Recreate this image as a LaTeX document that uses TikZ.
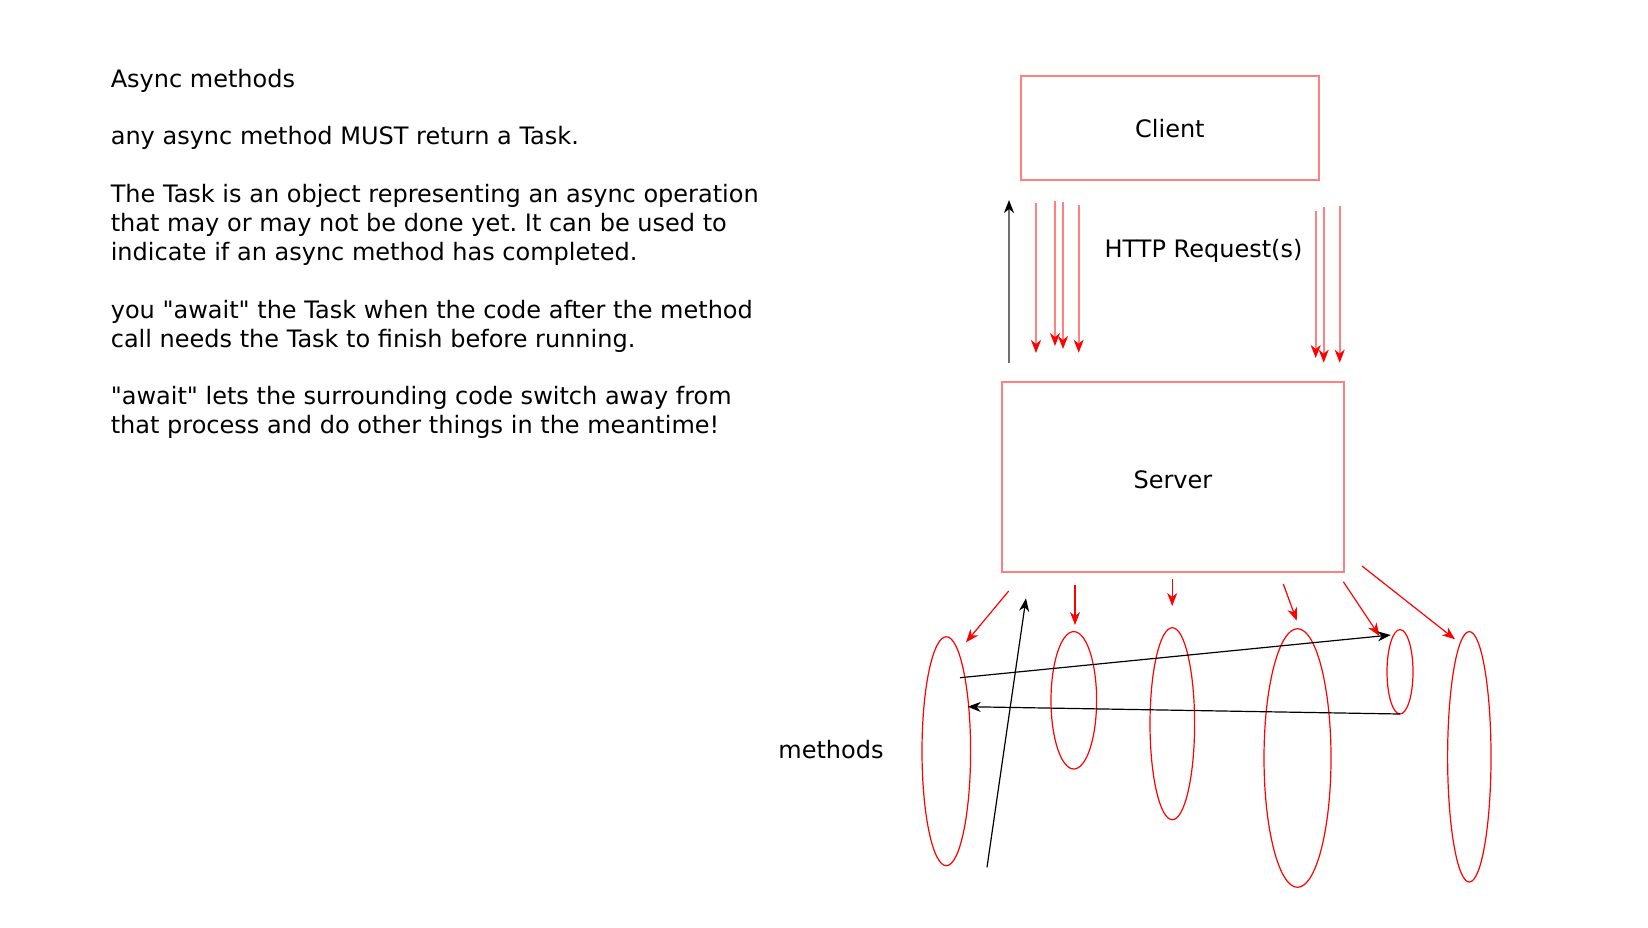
\documentclass[tikz,border=0pt]{standalone}
\usepackage{fontspec}
\setmainfont{DejaVu Sans}
\usetikzlibrary{arrows.meta,shapes.geometric}
\definecolor{boxred}{RGB}{255,128,128}
\definecolor{shaftgray}{RGB}{110,110,110}
\newcommand\dquote{\XeTeXglyph\XeTeXcharglyph"22\relax}
\frenchspacing
\begin{document}
\begin{tikzpicture}[x=0.5pt,y=-0.5pt,
  every node/.style={font=\fontsize{12pt}{14pt}\selectfont},
  boxnode/.style={draw=boxred, line width=1pt, rectangle, inner sep=0pt, outer sep=0pt, text depth=0pt},
  txt/.style={anchor=base west, inner sep=0pt},
  method/.style={draw=red, line width=0.6pt, ellipse, inner sep=0pt, outer sep=0pt},
  headtip/.style={-{Stealth[length=6.5pt,width=5pt,inset=2pt,#1]}},
  reqarrow/.style={draw=boxred, line width=1pt, headtip={color=red}},
  callarrow/.style={draw=red, line width=0.6pt, headtip={color=red}},
  backarrow/.style={draw=shaftgray, line width=1pt, headtip={color=black}},
  blackarrow/.style={draw=black, line width=0.6pt, headtip={color=black}}
]
\fill[white] (0,0) rectangle (1648,927);
\useasboundingbox (0,0) rectangle (1648,927);

% explanatory text
\node[txt] (t1) at (110.4,87.0)  {Async methods};
\node[txt] (t2) at (110.4,144.8) {any async method MUST return a Task.};
\node[txt] (t3) at (110.4,202.6) {The Task is an object representing an async operation};
\node[txt] (t4) at (110.4,231.5) {that may or may not be done yet. It can be used to};
\node[txt] (t5) at (110.4,260.4) {indicate if an async method has completed.};
\node[txt] (t6) at (110.4,318.2) {you \dquote await\dquote{} the Task when the code after the method};
\node[txt] (t7) at (110.4,347.1) {call needs the Task to finish before running.};
\node[txt] (t8) at (110.4,404.9) {\dquote await\dquote{} lets the surrounding code switch away from};
\node[txt] (t9) at (110.4,433.8) {that process and do other things in the meantime!};

% boxes
\node[boxnode, text height=10pt, minimum width=149.15pt, minimum height=52pt] (client) at (1169.9,127.7) {Client};
\node[boxnode, text height=11pt, minimum width=171.15pt, minimum height=95.15pt] (server) at (1172.9,477.2) {Server};
\node (http) at (1203.5,250.5) {HTTP Request(s)};
\node (methods) at (831,750) {methods};

% methods (ellipses)
\node[method, minimum width=24.3pt, minimum height=114.5pt] (e1) at (946.3,751.2) {};
\node[method, minimum width=22.8pt, minimum height=68.7pt]  (e2) at (1073.8,700.3) {};
\node[method, minimum width=22.3pt, minimum height=96pt]    (e3) at (1172.3,723.7) {};
\node[method, minimum width=33.5pt, minimum height=129.3pt] (e4) at (1297.5,758) {};
\node[method, minimum width=13pt,   minimum height=42.2pt]  (e5) at (1400,671.8) {};
\node[method, minimum width=21.7pt, minimum height=125.2pt] (e6) at (1469.3,756.8) {};

% request arrows (client -> server)
\coordinate (r1s) at (1036,203);   \coordinate (r1e) at (1036,353);
\coordinate (r2s) at (1055,201);   \coordinate (r2e) at (1055,346);
\coordinate (r3s) at (1063,202);   \coordinate (r3e) at (1063,349);
\coordinate (r4s) at (1078.7,205); \coordinate (r4e) at (1078.7,352.7);
\coordinate (r5s) at (1315.7,211); \coordinate (r5e) at (1315.7,358);
\coordinate (r6s) at (1323.7,207); \coordinate (r6e) at (1323.7,362.7);
\coordinate (r7s) at (1339.7,206); \coordinate (r7e) at (1339.7,362.7);
\draw[reqarrow] (r1s) -- (r1e);
\draw[reqarrow] (r2s) -- (r2e);
\draw[reqarrow] (r3s) -- (r3e);
\draw[reqarrow] (r4s) -- (r4e);
\draw[reqarrow] (r5s) -- (r5e);
\draw[reqarrow] (r6s) -- (r6e);
\draw[reqarrow] (r7s) -- (r7e);

% response arrow (server -> client)
\coordinate (bs) at (1009,363); \coordinate (be) at (1009,200);
\draw[backarrow] (bs) -- (be);

% server -> methods arrows
\coordinate (as) at (1008.7,591);  \coordinate (ae) at (966,642.3);
\coordinate (cs) at (1075,585);    \coordinate (ce) at (1075,625);
\coordinate (ds) at (1172.2,579);  \coordinate (de) at (1172.2,606);
\coordinate (fs) at (1283.3,584);  \coordinate (fe) at (1296.7,620.7);
\coordinate (gs) at (1343.3,581.7);\coordinate (ge) at (1379.5,636);
\coordinate (hs) at (1362,566);    \coordinate (he) at (1455,639.3);
\draw[callarrow] (as) -- (ae);
\draw[callarrow] (cs) -- (ce);
\draw[callarrow] (ds) -- (de);
\draw[callarrow] (fs) -- (fe);
\draw[callarrow] (gs) -- (ge);
\draw[callarrow] (hs) -- (he);

% black arrows among methods
\coordinate (k1s) at (987,867.3);  \coordinate (k1e) at (1026,598.3);
\coordinate (k2s) at (960,677.7);  \coordinate (k2e) at (1390.7,635);
\coordinate (k3e) at (967.7,706.7);
\draw[blackarrow] (k1s) -- (k1e);
\draw[blackarrow] (k2s) -- (k2e);
\draw[blackarrow] (e5.south) -- (k3e);
\end{tikzpicture}
\end{document}
